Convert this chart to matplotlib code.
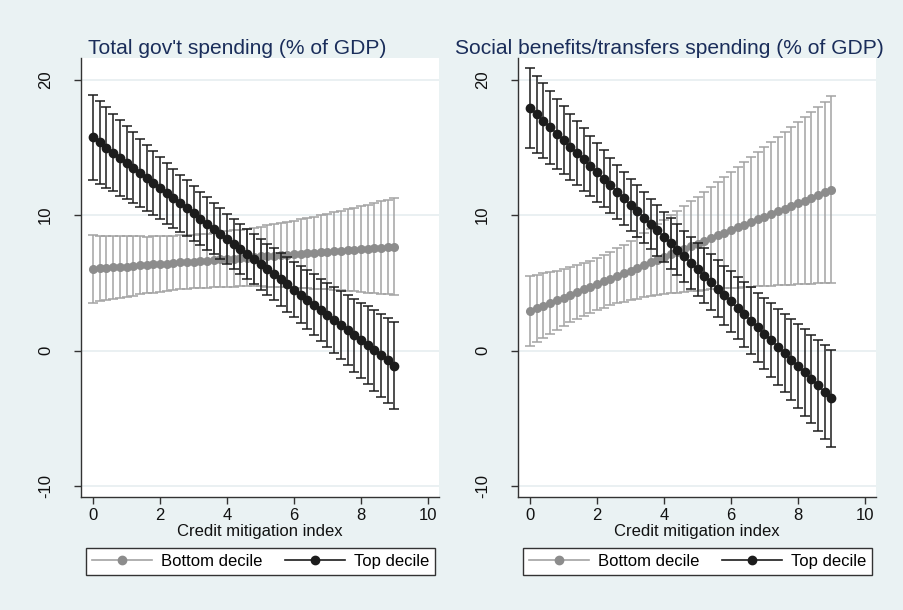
import numpy as np
import matplotlib.pyplot as plt
from matplotlib.lines import Line2D

plt.rcParams['font.family'] = ['Liberation Sans', 'DejaVu Sans']

# Credit mitigation index grid (0 to 9 in steps of 0.2)
x = np.round(np.arange(46) * 0.2, 1)

# Total gov't spending: predicted values and 95% CI half-widths
total_top_mean = [15.74, 15.37, 14.99, 14.62, 14.24, 13.87, 13.49, 13.12, 12.75, 12.37,
                  12.00, 11.62, 11.25, 10.87, 10.50, 10.13, 9.75, 9.38, 9.00, 8.63,
                  8.26, 7.88, 7.51, 7.13, 6.76, 6.38, 6.01, 5.64, 5.26, 4.89,
                  4.51, 4.14, 3.77, 3.39, 3.02, 2.64, 2.27, 1.89, 1.52, 1.15,
                  0.77, 0.40, 0.02, -0.35, -0.72, -1.10]
total_top_ci = [3.15, 3.06, 2.96, 2.87, 2.79, 2.70, 2.62, 2.53, 2.46, 2.38,
                2.31, 2.24, 2.17, 2.11, 2.06, 2.01, 1.97, 1.93, 1.89, 1.87,
                1.85, 1.84, 1.84, 1.84, 1.85, 1.87, 1.89, 1.93, 1.96, 2.01,
                2.06, 2.11, 2.17, 2.24, 2.30, 2.38, 2.45, 2.53, 2.61, 2.70,
                2.78, 2.87, 2.96, 3.05, 3.15, 3.24]
total_bottom_mean = [6.03, 6.07, 6.10, 6.14, 6.18, 6.21, 6.25, 6.29, 6.32, 6.36,
                     6.40, 6.43, 6.47, 6.51, 6.54, 6.58, 6.62, 6.65, 6.69, 6.73,
                     6.76, 6.80, 6.84, 6.87, 6.91, 6.95, 6.98, 7.02, 7.06, 7.09,
                     7.13, 7.17, 7.20, 7.24, 7.28, 7.31, 7.35, 7.39, 7.42, 7.46,
                     7.50, 7.53, 7.57, 7.61, 7.64, 7.68]
total_bottom_ci = [2.48, 2.42, 2.37, 2.32, 2.27, 2.22, 2.18, 2.14, 2.10, 2.07,
                   2.05, 2.02, 2.01, 1.99, 1.99, 1.98, 1.98, 1.99, 2.00, 2.02,
                   2.04, 2.07, 2.10, 2.13, 2.17, 2.21, 2.26, 2.31, 2.36, 2.41,
                   2.47, 2.53, 2.59, 2.66, 2.72, 2.79, 2.86, 2.93, 3.01, 3.08,
                   3.16, 3.24, 3.32, 3.40, 3.48, 3.56]

# Social benefits/transfers spending
social_top_mean = [17.92, 17.44, 16.97, 16.49, 16.01, 15.54, 15.06, 14.58, 14.11, 13.63,
                   13.16, 12.68, 12.20, 11.73, 11.25, 10.77, 10.30, 9.82, 9.34, 8.87,
                   8.39, 7.91, 7.44, 6.96, 6.49, 6.01, 5.53, 5.06, 4.58, 4.10,
                   3.63, 3.15, 2.67, 2.20, 1.72, 1.25, 0.77, 0.29, -0.18, -0.66,
                   -1.14, -1.61, -2.09, -2.57, -3.04, -3.52]
social_top_ci = [2.95, 2.86, 2.77, 2.68, 2.60, 2.51, 2.44, 2.36, 2.29, 2.22,
                 2.16, 2.10, 2.05, 2.00, 1.96, 1.92, 1.89, 1.87, 1.86, 1.85,
                 1.85, 1.86, 1.88, 1.90, 1.93, 1.97, 2.02, 2.07, 2.12, 2.18,
                 2.25, 2.32, 2.39, 2.47, 2.55, 2.63, 2.72, 2.80, 2.89, 2.99,
                 3.08, 3.18, 3.27, 3.37, 3.47, 3.57]
social_bottom_mean = [2.93, 3.13, 3.33, 3.53, 3.73, 3.92, 4.12, 4.32, 4.52, 4.72,
                      4.92, 5.12, 5.32, 5.52, 5.71, 5.91, 6.11, 6.31, 6.51, 6.71,
                      6.91, 7.11, 7.31, 7.50, 7.70, 7.90, 8.10, 8.30, 8.50, 8.70,
                      8.90, 9.10, 9.29, 9.49, 9.69, 9.89, 10.09, 10.29, 10.49, 10.69,
                      10.89, 11.08, 11.28, 11.48, 11.68, 11.88]
social_bottom_ci = [2.61, 2.49, 2.37, 2.27, 2.18, 2.10, 2.03, 1.98, 1.94, 1.92,
                    1.92, 1.94, 1.98, 2.03, 2.10, 2.18, 2.27, 2.37, 2.49, 2.61,
                    2.74, 2.88, 3.02, 3.16, 3.31, 3.47, 3.62, 3.78, 3.94, 4.11,
                    4.27, 4.44, 4.61, 4.78, 4.95, 5.12, 5.29, 5.46, 5.64, 5.81,
                    5.99, 6.17, 6.34, 6.52, 6.70, 6.88]

titles = ["Total gov't spending (% of GDP)", "Social benefits/transfers spending (% of GDP)"]
series_names = ["Bottom decile", "Top decile"]
xlabel = "Credit mitigation index"
yticks = [-10, 0, 10, 20]
xticks = [0, 2, 4, 6, 8, 10]

BG = '#eaf2f3'
GRID = '#e6eef0'
AXIS = '#333333'
NAVY = '#1a2d5a'
GRAY_MK = '#8c8c8c'
GRAY_BAR = '#a3a3a3'
BLACK = '#1c1c1c'

W, H = 904, 610
fig = plt.figure(figsize=(W / 100, H / 100), dpi=100, facecolor=BG)

panels = [
    (81, total_bottom_mean, total_bottom_ci, total_top_mean, total_top_ci, 88),
    (518, social_bottom_mean, social_bottom_ci, social_top_mean, social_top_ci, 455),
]

for i, (left_px, bm, bci, tm, tci, title_px) in enumerate(panels):
    ax = fig.add_axes([left_px / W, (H - 497) / H, 358 / W, 439 / H])
    ax.set_facecolor('white')

    # Bottom decile (gray) first, top decile (black) drawn over it
    ax.errorbar(x, bm, yerr=bci, fmt='none', ecolor=GRAY_BAR, elinewidth=1.1,
                capsize=3.5, capthick=1.1, zorder=2)
    ax.plot(x, bm, color=GRAY_MK, lw=1.2, marker='o', ms=5.5, mec=GRAY_MK,
            mfc=GRAY_MK, zorder=3)
    ax.errorbar(x, tm, yerr=tci, fmt='none', ecolor=BLACK, elinewidth=1.1,
                capsize=3.5, capthick=1.1, zorder=4)
    ax.plot(x, tm, color=BLACK, lw=1.2, marker='o', ms=6, mec=BLACK,
            mfc=BLACK, zorder=5)

    ax.set_xlim(-0.36, 10.33)
    ax.set_ylim(-10.8, 21.6)
    ax.set_xticks(xticks)
    ax.set_yticks(yticks)
    ax.set_yticklabels([str(v) for v in yticks], rotation=90, va='center')
    for v in yticks:
        ax.axhline(v, color=GRID, lw=1.2, zorder=1)

    for side in ('top', 'right'):
        ax.spines[side].set_visible(False)
    for side in ('left', 'bottom'):
        ax.spines[side].set_color(AXIS)
        ax.spines[side].set_linewidth(1.0)
    ax.tick_params(axis='both', direction='out', length=5, width=1.0,
                   color=AXIS, labelsize=12, labelcolor='#111111', pad=3)
    ax.tick_params(axis='y', pad=15)
    ax.set_xlabel(xlabel, fontsize=12, color='#111111', labelpad=0.5)

    fig.text(title_px / W, (H - 54) / H, titles[i], fontsize=15.1, color=NAVY,
             ha='left', va='baseline')

    handles = [
        Line2D([], [], color=GRAY_BAR, lw=1.2, marker='o', ms=6, mfc=GRAY_MK, mec=GRAY_MK),
        Line2D([], [], color=BLACK, lw=1.2, marker='o', ms=6, mfc=BLACK, mec=BLACK),
    ]
    leg = fig.legend(handles, series_names, loc='upper center',
                     bbox_to_anchor=((left_px + 179.5) / W, (H - 548) / H),
                     ncol=2, fontsize=12, frameon=True, fancybox=False,
                     edgecolor=AXIS, facecolor='white', framealpha=1,
                     handlelength=3.6, handletextpad=0.5, columnspacing=1.4,
                     borderpad=0.35, borderaxespad=0)
    leg.get_frame().set_linewidth(1.0)

fig.savefig('out.png', dpi=100, facecolor=BG)
